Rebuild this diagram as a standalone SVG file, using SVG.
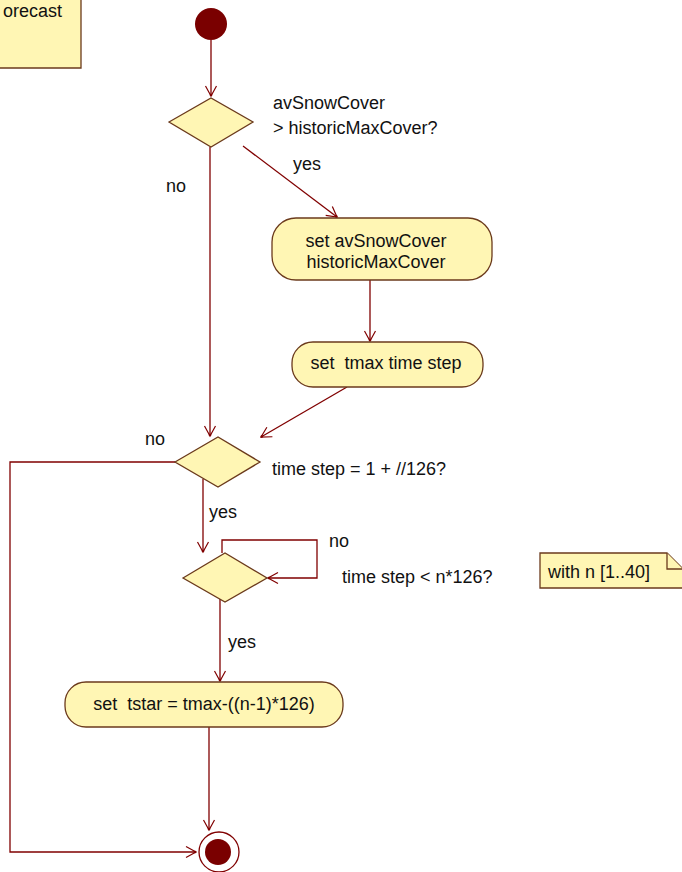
<svg xmlns="http://www.w3.org/2000/svg" width="682" height="872" viewBox="0 0 682 872">
  <style>
    text { font-family: "Liberation Sans", Arial, sans-serif; font-size: 18px; fill: #111; }
    .node { fill: #fff6b4; stroke: #6b3a1c; stroke-width: 1.3; }
    .note { fill: #fff6b4; stroke: #6b3a1c; stroke-width: 1.3; }
    .edge { fill: none; stroke: #800000; stroke-width: 1.3; }
    .mid { text-anchor: middle; }
  </style>
  <defs>
    <marker id="arrow" viewBox="-12 -7 14 14" refX="0" refY="0" markerWidth="14" markerHeight="14" markerUnits="userSpaceOnUse" orient="auto">
      <path d="M-10,-5.5 L0,0 L-10,5.5" fill="none" stroke="#800000" stroke-width="1.2"/>
      <circle cx="-1" cy="0" r="1.3" fill="#800000"/>
    </marker>
  </defs>
  <rect width="682" height="872" fill="#ffffff"/>

  <!-- connectors -->
  <g id="connectors">
    <path class="edge" d="M211,40 V96" marker-end="url(#arrow)"/>
    <path class="edge" d="M210,147 V436" marker-end="url(#arrow)"/>
    <path class="edge" d="M243,146 L337,217" marker-end="url(#arrow)"/>
    <path class="edge" d="M370,280 V341" marker-end="url(#arrow)"/>
    <path class="edge" d="M347,387 L261,437" marker-end="url(#arrow)"/>
    <path class="edge" d="M175,462 H10 V852 H196" marker-end="url(#arrow)"/>
    <path class="edge" d="M203,479 V552" marker-end="url(#arrow)"/>
    <path class="edge" d="M222,553 V540 H317 V578 H268" marker-end="url(#arrow)"/>
    <path class="edge" d="M220,599 V681" marker-end="url(#arrow)"/>
    <path class="edge" d="M209,727 V830" marker-end="url(#arrow)"/>
  </g>

  <!-- edge labels -->
  <g id="labels">
    <text x="293" y="170">yes</text>
    <text x="166" y="192">no</text>
    <text x="145" y="445">no</text>
    <text x="209" y="518">yes</text>
    <text x="329" y="547">no</text>
    <text x="228" y="648">yes</text>
  </g>

  <!-- note in the top left corner, running off the canvas -->
  <g id="note-forecast">
    <path class="note" d="M-10,-20 H81 V68 H-10 Z"/>
    <text x="3" y="17">orecast</text>
  </g>

  <g id="start">
    <circle cx="211" cy="24" r="16" fill="#7a0000"/>
  </g>

  <g id="decision-cover">
    <path class="node" d="M169,122 L211,98 L253,122 L211,147 Z"/>
    <text x="273" y="109">avSnowCover</text>
    <text x="273" y="134">&gt; historicMaxCover?</text>
  </g>

  <g id="set-cover">
    <rect class="node" x="272" y="218" width="220" height="62" rx="24" ry="24"/>
    <text class="mid" x="376" y="247">set avSnowCover</text>
    <text class="mid" x="376" y="268">historicMaxCover</text>
  </g>

  <g id="set-tmax">
    <rect class="node" x="292" y="342" width="191" height="45" rx="21" ry="21"/>
    <text class="mid" x="386" y="369" xml:space="preserve">set  tmax time step</text>
  </g>

  <g id="decision-timestep">
    <path class="node" d="M175,462 L218,437 L260,462 L218,487 Z"/>
    <text x="272" y="475">time step = 1 + //126?</text>
  </g>

  <g id="decision-n">
    <path class="node" d="M183,578 L225,553 L267,578 L225,602 Z"/>
    <text x="342" y="583">time step &lt; n*126?</text>
  </g>

  <g id="note-n">
    <path class="note" d="M540,553 H667 L683,569 V588 H540 Z"/>
    <path class="note" d="M667,553 V569 H683" fill="none"/>
    <text x="548" y="578">with n [1..40]</text>
  </g>

  <g id="set-tstar">
    <rect class="node" x="65" y="682" width="278" height="45" rx="21" ry="21"/>
    <text class="mid" x="204" y="710" xml:space="preserve">set  tstar = tmax-((n-1)*126)</text>
  </g>

  <g id="end">
    <circle cx="219" cy="852" r="20" fill="#ffffff" stroke="#800000" stroke-width="1.3"/>
    <circle cx="218" cy="852" r="13" fill="#7a0000"/>
  </g>
</svg>
